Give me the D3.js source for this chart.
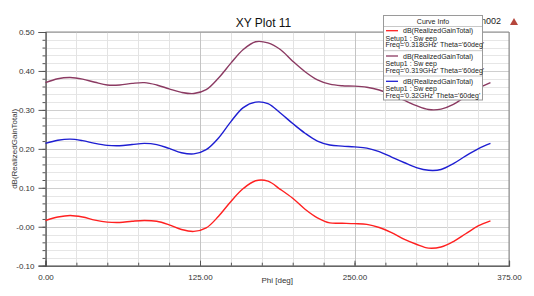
<!DOCTYPE html>
<html><head><meta charset="utf-8">
<script src="https://cdn.jsdelivr.net/npm/d3@7"></script>
<style>body{margin:0;background:#fff;} svg{display:block;font-family:"Liberation Sans",Arial,sans-serif;}</style>
</head><body><svg id="c" width="534" height="296"></svg>
<script>
const phi = [0,10,20,30,40,50,60,70,80,90,100,110,120,130,140,150,160,170,180,190,200,210,220,230,240,250,260,270,280,290,300,310,320,330,340,350,360];
const gain318 = [0.016,0.025,0.029,0.025,0.017,0.012,0.011,0.014,0.016,0.014,0.005,-0.007,-0.012,-0.003,0.027,0.065,0.098,0.118,0.117,0.096,0.073,0.045,0.023,0.010,0.009,0.008,0.006,-0.002,-0.015,-0.032,-0.045,-0.055,-0.052,-0.038,-0.018,0.002,0.015];
const gain319 = [0.370,0.380,0.383,0.379,0.371,0.364,0.364,0.368,0.370,0.364,0.354,0.345,0.342,0.352,0.382,0.420,0.455,0.475,0.472,0.455,0.425,0.398,0.377,0.366,0.362,0.361,0.358,0.351,0.339,0.325,0.311,0.301,0.302,0.314,0.335,0.355,0.370];
const gain320 = [0.214,0.222,0.225,0.221,0.214,0.209,0.208,0.211,0.214,0.211,0.201,0.190,0.187,0.198,0.228,0.270,0.306,0.320,0.316,0.292,0.265,0.240,0.220,0.210,0.207,0.205,0.202,0.193,0.179,0.165,0.152,0.145,0.147,0.162,0.182,0.200,0.214];
const xTicks = [0,125,250,375];
const xTickLabels = ["0.00","125.00","250.00","375.00"];
const yTicks = [-0.1,0,0.1,0.2,0.3,0.4,0.5];
const yTickLabels = ["-0.10","-0.00","0.10","0.20","0.30","0.40","0.50"];
const seriesNames = ["dB(RealizedGainTotal)","dB(RealizedGainTotal)","dB(RealizedGainTotal)"];
const seriesFreq = ["Freq='0.318GHz' Theta='60deg'","Freq='0.319GHz' Theta='60deg'","Freq='0.32GHz' Theta='60deg'"];
const seriesColors = ["#ff2020","#8b3a62","#1e1ed2"];

const svg = d3.select("#c");
const L=45.5, R=509, T=32, B=265.7;
const x = d3.scaleLinear().domain([0,375]).range([L,R]);
const y = d3.scaleLinear().domain([-0.1,0.5]).range([B,T]);

// grid
const g = svg.append("g");
const yMinor = d3.range(-0.1,0.5001,0.02);
g.selectAll(".hy").data(yMinor).join("line")
  .attr("x1",L).attr("x2",R).attr("y1",d=>Math.round(y(d))+0.5).attr("y2",d=>Math.round(y(d))+0.5)
  .attr("stroke",d=>Math.abs(Math.round(d*50)%5)===0?"#cfcfcf":"#e6e6e6").attr("stroke-width",1);
const xMinor = d3.range(0,375.1,25);
g.selectAll(".vx").data(xMinor).join("line")
  .attr("y1",T).attr("y2",B).attr("x1",d=>Math.round(x(d))+0.5).attr("x2",d=>Math.round(x(d))+0.5)
  .attr("stroke",d=>d%125===0?"#c4c4c4":"#e3e3e3").attr("stroke-width",1);

// border
svg.append("line").attr("x1",L).attr("x2",R).attr("y1",T).attr("y2",T).attr("stroke","#8a8a8a");
svg.append("line").attr("x1",R).attr("x2",R).attr("y1",T).attr("y2",B).attr("stroke","#8a8a8a");

// axes
const yAxis = d3.axisLeft(y).tickValues(yTicks).tickSize(7).tickFormat((d,i)=>yTickLabels[i]);
const ya = svg.append("g").attr("transform",`translate(${L},0)`).call(yAxis);
const yMinorAxis = d3.axisLeft(y).tickValues(yMinor).tickSize(3).tickFormat("");
svg.append("g").attr("transform",`translate(${L},0)`).call(yMinorAxis).select(".domain").remove();
const xAxis = d3.axisBottom(x).tickValues(xTicks).tickSize(-5).tickPadding(9).tickFormat((d,i)=>xTickLabels[i]);
const xa = svg.append("g").attr("transform",`translate(0,${B})`).call(xAxis);
const xMinorAxis = d3.axisBottom(x).tickValues(xMinor).tickSize(-3).tickFormat("");
svg.append("g").attr("transform",`translate(0,${B})`).call(xMinorAxis).select(".domain").remove();
svg.selectAll(".domain").attr("stroke","#444").attr("stroke-width",1.2);
svg.selectAll(".tick line").attr("stroke","#555");
svg.selectAll(".tick text").attr("font-size",8).attr("fill","#333").attr("font-family","Liberation Sans, Arial, sans-serif");
ya.selectAll(".tick text").attr("dx",-1);

// curves
const line = d3.line().x((d,i)=>x(phi[i])).y(d=>y(d)).curve(d3.curveCatmullRom.alpha(0.5));
[gain318,gain319,gain320].forEach((s,k)=>{
  svg.append("path").datum(s).attr("d",line).attr("fill","none").attr("stroke",seriesColors[k]).attr("stroke-width",1.4);
});

// title & labels
svg.append("text").attr("x",263.5).attr("y",27).attr("text-anchor","middle").attr("font-size",12).attr("fill","#111").text("XY Plot 11");
svg.append("text").attr("x",(L+R)/2).attr("y",283).attr("text-anchor","middle").attr("font-size",8).attr("fill","#333").text("Phi [deg]");
svg.append("text").attr("transform",`translate(17,${(T+B)/2}) rotate(-90)`).attr("text-anchor","middle").attr("font-size",8).attr("fill","#333").text("dB(RealizedGainTotal)");
svg.append("text").attr("x",501).attr("y",24).attr("text-anchor","end").attr("font-size",9).attr("fill","#222").text("n002");
svg.append("path").attr("d","M510,25 L518,25 L514,18 Z").attr("fill","#b5463c");

// legend
const lg = svg.append("g");
lg.append("rect").attr("x",383.5).attr("y",15.5).attr("width",99).attr("height",84.5).attr("fill","#fff").attr("stroke","#9a9a9a");
lg.append("text").attr("x",433).attr("y",23.5).attr("text-anchor","middle").attr("font-size",7).attr("fill","#222").text("Curve Info");
lg.append("line").attr("x1",384).attr("x2",482).attr("y1",26.5).attr("y2",26.5).attr("stroke","#c8c8c8");
seriesNames.forEach((n,k)=>{
  const y0 = 30.7 + k*25.3;
  lg.append("line").attr("x1",386).attr("x2",398).attr("y1",y0).attr("y2",y0).attr("stroke",seriesColors[k]).attr("stroke-width",1.3);
  lg.append("text").attr("x",403).attr("y",y0+2.5).attr("font-size",7).attr("fill","#222").text(n);
  lg.append("text").attr("x",385.5).attr("y",y0+10).attr("font-size",7).attr("fill","#222").text("Setup1 : Sw eep");
  lg.append("text").attr("x",385.5).attr("y",y0+16.5).attr("font-size",7).attr("fill","#222").text(seriesFreq[k]);
  if(k<2) lg.append("line").attr("x1",384).attr("x2",482).attr("y1",y0+20).attr("y2",y0+20).attr("stroke","#c8c8c8");
});
</script></body></html>
